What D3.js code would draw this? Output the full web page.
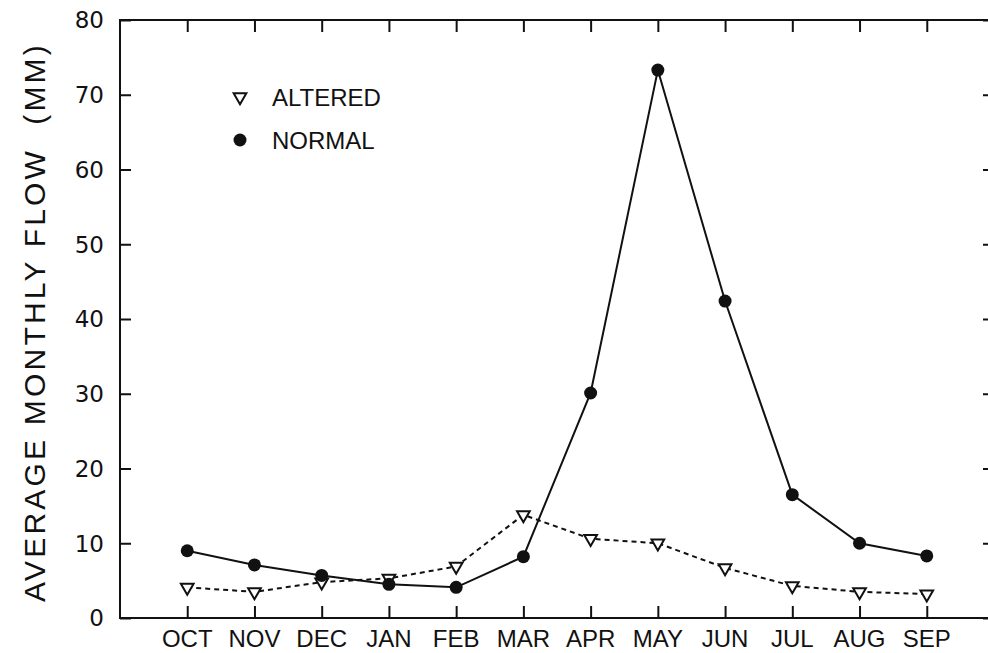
<!DOCTYPE html>
<html>
<head>
<meta charset="utf-8">
<script src="https://cdn.jsdelivr.net/npm/d3@7"></script>
<style>
  body { margin: 0; background: #fff; }
  svg text { font-family: "Liberation Sans", Arial, sans-serif; fill: #111; }
</style>
</head>
<body>
<svg width="988" height="653"></svg>
<script>
const months = ["OCT", "NOV", "DEC", "JAN", "FEB", "MAR", "APR", "MAY", "JUN", "JUL", "AUG", "SEP"];
const normal = [9.0, 7.1, 5.7, 4.5, 4.1, 8.2, 30.1, 73.3, 42.4, 16.5, 10.0, 8.3];
const altered = [4.1, 3.5, 4.8, 5.3, 6.9, 13.8, 10.6, 10.0, 6.7, 4.3, 3.5, 3.2];
const yTicks = [0, 10, 20, 30, 40, 50, 60, 70, 80];

const svg = d3.select("svg");
const plotLeft = 120, plotRight = 994, plotTop = 20, plotBottom = 618;

const x = d3.scalePoint()
    .domain(months)
    .range([plotLeft, plotRight])
    .padding(1);

const y = d3.scaleLinear()
    .domain([0, 80])
    .range([plotBottom, plotTop]);

const ink = "#111";

// frame
svg.append("rect")
    .attr("x", plotLeft)
    .attr("y", plotTop)
    .attr("width", plotRight - plotLeft)
    .attr("height", plotBottom - plotTop)
    .attr("fill", "none")
    .attr("stroke", ink)
    .attr("stroke-width", 2);

// left axis, ticks pointing inward
const yAxis = svg.append("g")
    .attr("transform", `translate(${plotLeft},0)`)
    .call(d3.axisRight(y).tickValues(yTicks).tickSize(11).tickFormat(""));
yAxis.select(".domain").remove();
yAxis.selectAll(".tick line").attr("stroke", ink).attr("stroke-width", 2);

svg.append("g").selectAll("text")
    .data(yTicks)
    .join("text")
    .attr("x", 104)
    .attr("y", d => y(d))
    .attr("dy", "0.36em")
    .attr("text-anchor", "end")
    .attr("font-size", "23px")
    .style("font-family", "'DejaVu Sans', sans-serif")
    .text(d => d);

// right axis ticks
const yAxisR = svg.append("g")
    .attr("transform", `translate(${plotRight},0)`)
    .call(d3.axisLeft(y).tickValues(yTicks).tickSize(11).tickFormat(""));
yAxisR.select(".domain").remove();
yAxisR.selectAll(".tick line").attr("stroke", ink).attr("stroke-width", 2);

// bottom axis ticks pointing up
const xAxis = svg.append("g")
    .attr("transform", `translate(0,${plotBottom})`)
    .call(d3.axisTop(x).tickSize(12).tickFormat(""));
xAxis.select(".domain").remove();
xAxis.selectAll(".tick line").attr("stroke", ink).attr("stroke-width", 2);

// top axis ticks pointing down
const xAxisT = svg.append("g")
    .attr("transform", `translate(0,${plotTop})`)
    .call(d3.axisBottom(x).tickSize(12).tickFormat(""));
xAxisT.select(".domain").remove();
xAxisT.selectAll(".tick line").attr("stroke", ink).attr("stroke-width", 2);

svg.append("g").selectAll("text")
    .data(months)
    .join("text")
    .attr("x", d => x(d))
    .attr("y", 647)
    .attr("text-anchor", "middle")
    .attr("font-size", "24px")
    .text(d => d);

// y label
svg.append("text")
    .attr("transform", `translate(45,${(plotTop + plotBottom) / 2 + 3}) rotate(-90)`)
    .attr("text-anchor", "middle")
    .attr("font-size", "30px")
    .attr("letter-spacing", "3.2px")
    .style("white-space", "pre")
    .text("AVERAGE MONTHLY FLOW  (MM)");

const line = d3.line()
    .x((d, i) => x(months[i]))
    .y(d => y(d));

// altered series
svg.append("path")
    .datum(altered)
    .attr("fill", "none")
    .attr("stroke", ink)
    .attr("stroke-width", 2)
    .attr("stroke-dasharray", "5,4")
    .attr("d", line);

const tri = d3.symbol().type(d3.symbolTriangle).size(70);

svg.append("g").selectAll("path")
    .data(altered)
    .join("path")
    .attr("d", tri)
    .attr("transform", (d, i) => `translate(${x(months[i])},${y(d)}) rotate(180)`)
    .attr("fill", "#fff")
    .attr("stroke", ink)
    .attr("stroke-width", 2);

// normal series
svg.append("path")
    .datum(normal)
    .attr("fill", "none")
    .attr("stroke", ink)
    .attr("stroke-width", 2)
    .attr("d", line);

svg.append("g").selectAll("circle")
    .data(normal)
    .join("circle")
    .attr("cx", (d, i) => x(months[i]))
    .attr("cy", d => y(d))
    .attr("r", 6.5)
    .attr("fill", ink);

// legend
const legend = svg.append("g");
legend.append("path")
    .attr("d", tri)
    .attr("transform", "translate(240,97) rotate(180)")
    .attr("fill", "#fff")
    .attr("stroke", ink)
    .attr("stroke-width", 2);
legend.append("text")
    .attr("x", 272)
    .attr("y", 97)
    .attr("dy", "0.36em")
    .attr("font-size", "24px")
    .text("ALTERED");
legend.append("circle")
    .attr("cx", 240)
    .attr("cy", 140)
    .attr("r", 6.5)
    .attr("fill", ink);
legend.append("text")
    .attr("x", 272)
    .attr("y", 140)
    .attr("dy", "0.36em")
    .attr("font-size", "24px")
    .text("NORMAL");
</script>
</body>
</html>
